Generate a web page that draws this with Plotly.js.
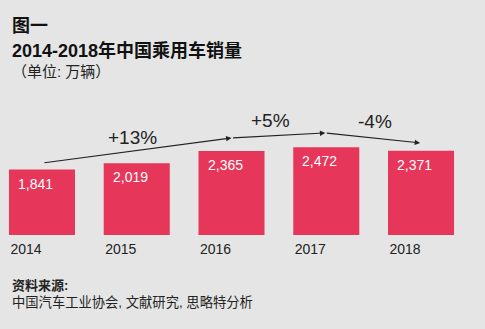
<!DOCTYPE html>
<html><head><meta charset="utf-8">
<script src="https://cdn.plot.ly/plotly-3.0.1.min.js"></script>
<style>html,body{margin:0;padding:0;background:#e5e5e5;}</style>
</head><body>
<div id="chart" style="width:485px;height:329px;"></div>
<script>
const years = ["2014", "2015", "2016", "2017", "2018"];
const sales = [1841, 2019, 2365, 2472, 2371];
const salesLabels = ["1,841", "2,019", "2,365", "2,472", "2,371"];
// growth arrows: [fromIndex, fromValue, toIndex, toValue]
const arrowFrom = [[0.01, 2028], [2.0, 2732], [2.99, 2873]];
const arrowTo = [[2.0, 2732], [2.99, 2873], [3.99, 2592]];
const growthLabels = ["+13%", "+5%", "-4%"];
const growthPos = [[0.95, 2732], [2.41, 3211], [3.51, 3183]];

const FONT = "Liberation Sans, Arial, Noto Sans CJK SC, sans-serif";
const annotations = [];
sales.forEach((v, i) => {
  annotations.push({x: i, y: v, xref: 'x', yref: 'y', text: salesLabels[i], showarrow: false,
    xanchor: 'left', yanchor: 'top', xshift: -26, yshift: -4,
    font: {family: FONT, size: 14, color: '#ffffff'}});
});
arrowFrom.forEach((f, i) => {
  annotations.push({x: arrowTo[i][0], y: arrowTo[i][1], ax: f[0], ay: f[1],
    xref: 'x', yref: 'y', axref: 'x', ayref: 'y', text: '', showarrow: true,
    arrowhead: 2, arrowsize: 0.9, arrowwidth: 1.2, arrowcolor: '#222', standoff: 0, startstandoff: 0});
});
growthLabels.forEach((t, i) => {
  annotations.push({x: growthPos[i][0], y: growthPos[i][1], xref: 'x', yref: 'y', text: t, showarrow: false,
    xanchor: 'center', yanchor: 'middle', font: {family: FONT, size: 19, color: '#222'}});
});
const textAnn = [
  ["<b>图一</b>", 26, 18, '#111'],
  ["<b>2014-2018年中国乘用车销量</b>", 50.5, 18, '#111'],
  ["（单位: 万辆）", 72, 15, '#222'],
  ["<b>资料来源:</b>", 285, 13, '#222'],
  ["中国汽车工业协会, 文献研究, 思略特分析", 302, 13.3, '#222']
];
textAnn.forEach(a => {
  annotations.push({x: 10 / 485, y: (235 - a[1]) / 135, xref: 'paper', yref: 'paper', text: a[0], showarrow: false,
    xanchor: 'left', yanchor: 'middle', font: {family: FONT, size: a[2], color: a[3]}});
});

const data = [{
  type: 'bar', x: years, y: sales, width: 0.697,
  marker: {color: '#e6375a'}, hoverinfo: 'none'
}];
const layout = {
  width: 485, height: 329,
  margin: {l: 0, r: 0, t: 100, b: 94},
  paper_bgcolor: '#e5e5e5', plot_bgcolor: '#e5e5e5',
  showlegend: false,
  xaxis: {type: 'category', range: [-0.443, 4.675], showgrid: false, zeroline: false, showline: false,
    ticks: '', ticklabelshift: -16, ticklabelstandoff: 4,
    tickfont: {family: FONT, size: 14, color: '#222'}},
  yaxis: {range: [0, 3800], visible: false, showgrid: false, zeroline: false},
  annotations: annotations
};
Plotly.newPlot('chart', data, layout, {displayModeBar: false, staticPlot: true});
</script>
</body></html>
